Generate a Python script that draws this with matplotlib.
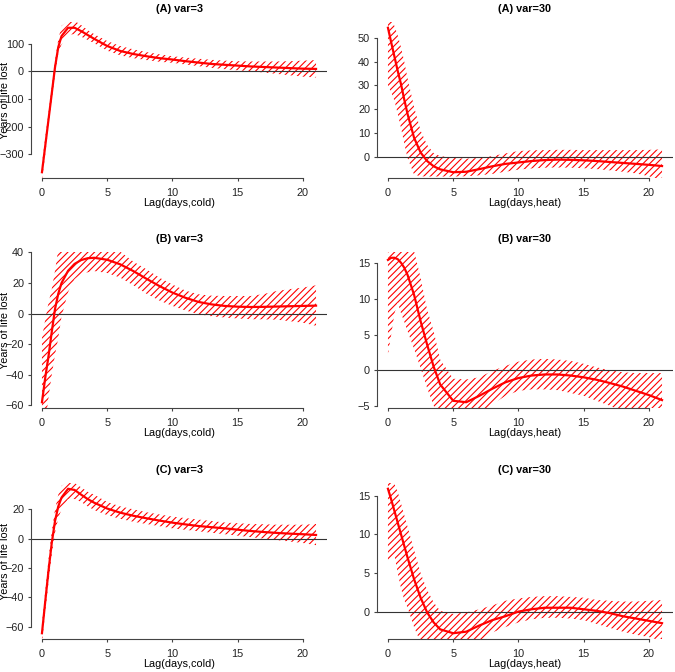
import numpy as np
import matplotlib
matplotlib.use('Agg')
import matplotlib.pyplot as plt

plt.rcParams['font.family'] = ['Liberation Sans', 'DejaVu Sans']
plt.rcParams['hatch.color'] = 'red'
plt.rcParams['hatch.linewidth'] = 0.8

# ── Data ─────────────────────────────────────────────────────────────────
lag = [0, 0.25, 0.5, 0.75, 1, 1.25, 1.5, 2, 2.5, 3, 3.5, 4, 5, 6, 7, 8, 9,
       10, 11, 12, 13, 14, 15, 16, 17, 18, 19, 20, 21]

# (A) var=3, cold
a3_fit = [-365, -270, -175, -80, 15, 88, 128, 158, 158, 146, 132, 118, 92, 74,
          63, 55, 48, 43, 37, 32, 27, 24, 21, 18, 16, 14, 12, 10, 9]
a3_hi = [-335, -240, -150, -55, 40, 115, 165, 183, 183, 168, 150, 135, 110, 92,
         80, 70, 62, 55, 50, 46, 42, 39, 37, 36, 36, 36, 37, 39, 41]
a3_lo = [-395, -300, -200, -105, -10, 65, 98, 133, 135, 126, 114, 102, 75, 58,
         48, 41, 35, 31, 25, 19, 13, 8, 4, 0, -4, -9, -14, -19, -22]

# (A) var=30, heat
a30_fit = [54.2, 48, 42, 36, 30.5, 24, 18, 8, 1.8, -1.8, -4, -5.3, -6.5, -6.3,
           -5.2, -4.0, -3.0, -2.4, -1.8, -1.4, -1.2, -1.3, -1.5, -1.8, -2.2,
           -2.6, -3.0, -3.4, -3.9]
a30_hi = [57, 57, 55, 51, 46, 40, 33, 21, 11, 5, 1.5, 0.3, -0.5, -0.8, -0.5,
          0.3, 1.4, 2.4, 2.7, 2.8, 2.9, 2.9, 2.8, 2.8, 2.8, 2.8, 2.8, 2.9, 3.1]
a30_lo = [30, 27, 23.5, 18, 12, 5.5, -0.5, -7.5, -8.2, -8.3, -8.3, -8.3, -8.3,
          -8.2, -7.8, -7.2, -6.3, -5.4, -4.9, -4.6, -4.5, -4.6, -4.8, -5.2,
          -5.7, -6.3, -7.0, -8.2, -10]

# (B) var=3, cold
b3_fit = [-58, -42, -28, -12, 3, 13, 20, 28, 32.5, 35, 36.2, 36.5, 35.2, 32.2,
          27.8, 22.8, 18, 13.7, 10.3, 7.6, 6, 5, 4.5, 4.3, 4.4, 4.6, 4.8, 5,
          5.2]
b3_hi = [-16, -4, 7, 16, 28, 42, 47, 48, 49, 50, 50, 49, 46, 40.5, 34, 29,
         23.5, 19, 15, 12.6, 11.7, 11.5, 11.5, 11.5, 12.8, 14.8, 16, 17, 18.5]
b3_lo = [-90, -72, -55, -40, -27, -16, -2, 14, 22.5, 26, 27, 27.8, 26.5, 23.5,
         18.5, 13, 8.5, 5, 2, -0.4, -1.8, -2.6, -3.2, -3.7, -3.8, -4, -5, -6,
         -8]

# (B) var=30, heat
b30_fit = [15.5, 15.8, 15.8, 15.6, 15.1, 14.4, 13.4, 10.6, 6.9, 3.6, 0.5, -2,
           -4.3, -4.5, -3.6, -2.6, -1.7, -1.1, -0.75, -0.6, -0.6, -0.75, -1,
           -1.35, -1.8, -2.3, -2.9, -3.5, -4.2]
b30_hi = [19, 20, 21, 21, 21, 20.5, 19.5, 16.8, 13, 8.5, 5.5, 1.5, -1.2, -1.3,
          -1, -0.1, 0.6, 1.2, 1.5, 1.6, 1.5, 1.3, 0.9, 0.4, 0, -0.3, -0.4,
          -0.4, -0.4]
b30_lo = [2.2, 5, 8, 9.5, 8, 6.8, 5.5, 3, 0.3, -2.5, -5, -6.5, -7.5, -8, -7,
          -4.8, -3.6, -2.9, -2.7, -2.7, -2.8, -3.2, -3.6, -4.3, -5, -5.8, -6.5,
          -7, -7.5]

# (C) var=3, cold
c3_fit = [-64.5, -43, -22, -3, 12, 22, 28, 34, 33.2, 30, 27, 24.5, 20.5, 17.7,
          15.6, 13.9, 12.3, 10.9, 9.7, 8.6, 7.8, 7, 6.1, 5.2, 4.5, 3.9, 3.4, 3,
          2.5]
c3_hi = [-58, -36, -14, 5, 20, 30, 36, 39, 38, 35, 32, 30, 25, 22, 20, 18,
         16.5, 15, 14, 13, 12, 11, 10.5, 10, 9.8, 9.5, 9.5, 9.5, 10]
c3_lo = [-71, -50, -30, -11, 4, 14, 20, 27, 27, 25, 22, 19.5, 16, 13.5, 11.5,
         10, 8.5, 7, 6, 5, 4, 3, 2, 1, 0, -1, -2, -3, -4.5]

# (C) var=30, heat
c30_fit = [15.9, 14.5, 13, 11.5, 10, 8.5, 7, 4.2, 1.8, -0.1, -1.4, -2.3, -2.8,
           -2.6, -1.8, -1.1, -0.6, 0, 0.3, 0.5, 0.5, 0.5, 0.3, 0.1, -0.2, -0.6,
           -0.9, -1.2, -1.5]
c30_hi = [16.7, 17, 16.5, 15.5, 14, 12.5, 11, 8, 5, 2.8, 1.2, 0.1, -0.3, -0.1,
          0.3, 0.8, 1.4, 1.7, 1.9, 2, 2, 1.9, 1.8, 1.5, 1.4, 1.3, 1.3, 1.4, 1.5]
c30_lo = [6.3, 6.8, 7.2, 5, 3, 1.5, 0.5, -2, -4, -5, -5.5, -5.8, -6, -5, -3.8,
          -2.7, -2, -1.4, -1, -0.8, -0.8, -0.9, -1.1, -1.6, -2.1, -2.6, -3,
          -3.3, -3.8]

titles = ['(A) var=3', '(A) var=30', '(B) var=3', '(B) var=30',
          '(C) var=3', '(C) var=30']
xlabels = ['Lag(days,cold)', 'Lag(days,heat)'] * 3
yticks = [[-300, -200, -100, 0, 100], [0, 10, 20, 30, 40, 50],
          [-60, -40, -20, 0, 20, 40], [-5, 0, 5, 10, 15],
          [-60, -40, -20, 0, 20], [0, 5, 10, 15]]
xticks = [0, 5, 10, 15, 20]

panels = [(a3_fit, a3_lo, a3_hi), (a30_fit, a30_lo, a30_hi),
          (b3_fit, b3_lo, b3_hi), (b30_fit, b30_lo, b30_hi),
          (c3_fit, c3_lo, c3_hi), (c30_fit, c30_lo, c30_hi)]

# ── Figure ───────────────────────────────────────────────────────────────
W, H = 675, 672
fig = plt.figure(figsize=(W / 100, H / 100), dpi=100)

col_left = [31, 377]
row_top = [22, 252, 483]
ax_w, ax_h = 296, 156
axis_col = '#444444'
fs = 7.8

for i, (fit, lo, hi) in enumerate(panels):
    r, c = divmod(i, 2)
    ax = fig.add_axes([col_left[c] / W, 1 - (row_top[r] + ax_h) / H,
                       ax_w / W, ax_h / H])
    x = np.array(lag)
    fit = np.array(fit)

    ax.fill_between(x, lo, hi, facecolor='none', edgecolor='red',
                    hatch='/////', linewidth=0)
    ax.plot(x, fit, color='red', lw=1.6, zorder=3)
    ax.axhline(0, color='#333333', lw=0.8, zorder=2)

    # R-style limits: 4% padding around lag range and estimate range
    pad_x = 0.04 * 21
    ax.set_xlim(-pad_x, 21 + pad_x)
    rng = fit.max() - fit.min()
    ax.set_ylim(fit.min() - 0.04 * rng, fit.max() + 0.04 * rng)

    for s in ['top', 'right']:
        ax.spines[s].set_visible(False)
    for s in ['left', 'bottom']:
        ax.spines[s].set_color(axis_col)
        ax.spines[s].set_linewidth(0.8)
    ax.spines['bottom'].set_bounds(xticks[0], xticks[-1])
    ax.spines['left'].set_bounds(yticks[i][0], yticks[i][-1])

    ax.set_xticks(xticks)
    ax.set_yticks(yticks[i])
    ax.tick_params(axis='both', length=2.5, width=0.8, color=axis_col,
                   labelsize=fs, labelcolor='#222222')
    ax.tick_params(axis='x', pad=4.5)
    ax.tick_params(axis='y', pad=2.5)

    ax.set_title(titles[i], fontsize=fs, fontweight='bold', pad=7.5)
    ax.set_xlabel(xlabels[i], fontsize=fs, va='center')
    ax.xaxis.set_label_coords(0.5, -25 / ax_h)
    if c == 0:
        ax.set_ylabel('Years of life lost', fontsize=fs, va='center')
        ax.yaxis.set_label_coords(-26 / ax_w, 0.5)

plt.savefig('out.png', dpi=100, facecolor='white')
plt.close()
